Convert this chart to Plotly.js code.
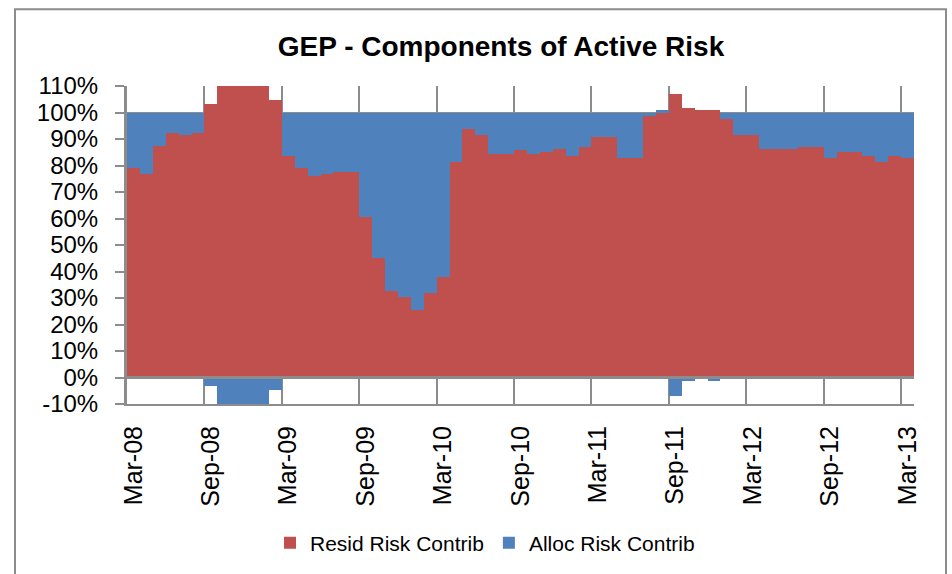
<!DOCTYPE html>
<html>
<head>
<meta charset="utf-8">
<script src="https://cdn.plot.ly/plotly-3.0.1.min.js"></script>
<style>
  html, body { margin: 0; padding: 0; background: #ffffff; }
  #chart { width: 952px; height: 574px; }
</style>
</head>
<body>
<div id="chart"></div>
<script>
// Months (monthly observations, Mar-08 .. Mar-13)
const months = [
  'Mar-08','Apr-08','May-08','Jun-08','Jul-08','Aug-08','Sep-08','Oct-08','Nov-08','Dec-08','Jan-09','Feb-09',
  'Mar-09','Apr-09','May-09','Jun-09','Jul-09','Aug-09','Sep-09','Oct-09','Nov-09','Dec-09','Jan-10','Feb-10',
  'Mar-10','Apr-10','May-10','Jun-10','Jul-10','Aug-10','Sep-10','Oct-10','Nov-10','Dec-10','Jan-11','Feb-11',
  'Mar-11','Apr-11','May-11','Jun-11','Jul-11','Aug-11','Sep-11','Oct-11','Nov-11','Dec-11','Jan-12','Feb-12',
  'Mar-12','Apr-12','May-12','Jun-12','Jul-12','Aug-12','Sep-12','Oct-12','Nov-12','Dec-12','Jan-13','Feb-13',
  'Mar-13'
];

// Residual risk contribution (%)
const residRisk = [
  79.1, 76.7, 87.5, 92.2, 91.6, 92.2, 103.1, 118.0, 120.0, 121.0, 119.0, 104.6,
  83.7, 79.1, 76.0, 76.7, 77.6, 77.6, 60.4, 45.0, 32.6, 30.2, 25.6, 31.9,
  37.9, 81.5, 93.7, 91.5, 84.5, 84.5, 86.0, 84.5, 85.2, 86.1, 83.6, 86.9,
  90.6, 90.6, 82.9, 82.9, 98.5, 100.0, 107.0, 101.6, 100.9, 100.9, 97.7, 91.5,
  91.5, 86.2, 86.2, 86.2, 86.9, 86.9, 82.9, 85.2, 85.2, 83.6, 81.5, 83.6,
  82.9
];

// Allocation risk contribution (%)
const allocRisk = [
  20.9, 23.3, 12.5, 7.8, 8.4, 7.8, -3.1, -18.0, -20.0, -21.0, -19.0, -4.6,
  16.3, 20.9, 24.0, 23.3, 22.4, 22.4, 39.6, 55.0, 67.4, 69.8, 74.4, 68.1,
  62.1, 18.5, 6.3, 8.5, 15.5, 15.5, 14.0, 15.5, 14.8, 13.9, 16.4, 13.1,
  9.4, 9.4, 17.1, 17.1, 1.5, 0.9, -6.9, -1.5, 0.0, -1.5, 2.3, 8.5,
  8.5, 13.8, 13.8, 13.8, 13.1, 13.1, 17.1, 14.8, 14.8, 16.4, 18.5, 16.4,
  17.1
];

// Labelled ticks on the date axis
const tickLabels = ['Mar-08','Sep-08','Mar-09','Sep-09','Mar-10','Sep-10','Mar-11','Sep-11','Mar-12','Sep-12','Mar-13'];

// Value-axis ticks
const yTickVals = [-10, 0, 10, 20, 30, 40, 50, 60, 70, 80, 90, 100, 110];
const yTickText = ['-10%', '0%', '10%', '20%', '30%', '40%', '50%', '60%', '70%', '80%', '90%', '100%', '110%'];

const seriesNames = ['Resid Risk Contrib', 'Alloc Risk Contrib'];
const seriesColors = ['#C0504D', '#4F81BD'];

const gridCol = '#8C8C8C';
const fam = 'Liberation Sans, Arial, sans-serif';

const traces = [
  {
    type: 'bar', name: seriesNames[0], x: months, y: residRisk,
    marker: { color: seriesColors[0], line: { width: 0 } },
    hoverinfo: 'x+y+name'
  },
  {
    type: 'bar', name: seriesNames[1], x: months, y: allocRisk,
    marker: { color: seriesColors[1], line: { width: 0 } },
    hoverinfo: 'x+y+name'
  }
];

const layout = {
  width: 952, height: 574,
  margin: { l: 127, r: 38, t: 86, b: 169, pad: 0 },
  paper_bgcolor: '#ffffff',
  plot_bgcolor: '#ffffff',
  barmode: 'relative',
  bargap: 0,
  showlegend: true,
  title: {
    text: '<b>GEP - Components of Active Risk</b>',
    font: { family: fam, size: 28, color: '#000000' },
    x: 501 / 952, xref: 'container', xanchor: 'center',
    y: 1 - 46 / 574, yref: 'container', yanchor: 'middle'
  },
  xaxis: {
    type: 'category',
    tickvals: tickLabels,
    ticktext: tickLabels,
    tickangle: -90,
    tickson: 'boundaries',
    ticks: '',
    showgrid: true,
    gridcolor: gridCol,
    gridwidth: 2,
    showline: true,
    linecolor: gridCol,
    linewidth: 2,
    mirror: false,
    tickfont: { family: fam, size: 25, color: '#000000' },
    ticklabelstandoff: 10,
    automargin: false,
    fixedrange: true
  },
  yaxis: {
    range: [-10, 110],
    tickmode: 'array',
    tickvals: yTickVals,
    ticktext: yTickText,
    ticks: 'outside',
    ticklen: 9,
    tickwidth: 2,
    tickcolor: gridCol,
    showgrid: true,
    gridcolor: gridCol,
    gridwidth: 2,
    showline: true,
    linecolor: gridCol,
    linewidth: 3,
    zeroline: true,
    zerolinecolor: gridCol,
    zerolinewidth: 3,
    zerolinelayer: 'above traces',
    layer: 'above traces',
    tickfont: { family: fam, size: 24, color: '#000000' },
    ticklabelstandoff: 12,
    automargin: false,
    fixedrange: true
  },
  legend: {
    orientation: 'h',
    x: (485 - 127) / 787, xanchor: 'center',
    y: (405 - 543) / 319, yanchor: 'middle',
    font: { family: fam, size: 21, color: '#000000' },
    bgcolor: 'rgba(0,0,0,0)',
    traceorder: 'normal'
  },
  shapes: [
    {
      type: 'rect', xref: 'paper', yref: 'paper',
      x0: (15 - 127) / 787, x1: (946 - 127) / 787,
      y0: (405 - 600) / 319, y1: (405 - 9) / 319,
      line: { color: '#8C8C8C', width: 2 },
      fillcolor: 'rgba(0,0,0,0)',
      layer: 'below'
    }
  ]
};

Plotly.newPlot('chart', traces, layout, { displayModeBar: false, staticPlot: true });
</script>
</body>
</html>
